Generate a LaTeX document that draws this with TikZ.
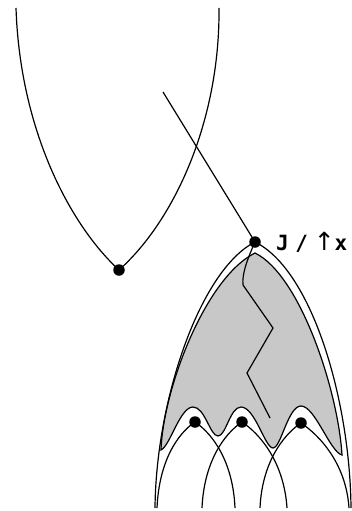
\documentclass[tikz,border=0pt]{standalone}
\usepackage{fontspec}
\usepackage{tikz}
\usetikzlibrary{positioning}
\newfontfamily\labelfont{DejaVu Sans Mono}
\newfontfamily\arrowfont{DejaVu Sans}
\definecolor{regiongray}{RGB}{200,200,200}
\tikzset{
  curve/.style={line width=1.2pt,black},
  vdot/.style={circle,fill=black,inner sep=0pt,minimum size=11.5pt},
  region/.style={fill=regiongray,draw=black,line width=1.2pt}
}

\begin{document}
\begin{tikzpicture}[x=1pt,y=-1pt]
        \useasboundingbox (0,0) rectangle (352,511);
        %% shaded region
        \draw[region]
          (255,253) .. controls (205,278) and (163,390) .. (161,450)
          .. controls (170,446) and (180,407) .. (193,407)
          .. controls (205,407) and (210,436) .. (218,436)
          .. controls (226,436) and (230,407) .. (241,407)
          .. controls (255,407) and (265,448) .. (273,448)
          .. controls (281,448) and (288,406) .. (301,406)
          .. controls (315,406) and (330,452) .. (342,455)
          .. controls (338,390) and (300,275) .. (255,253) -- cycle;
        %% vertices
        \node[vdot] (v) at (119,270) {};
        \node[vdot] (j) at (255,242) {};
        \node[vdot] (a) at (195,422) {};
        \node[vdot] (b) at (242,422) {};
        \node[vdot] (c) at (301,423) {};
        \node[font=\labelfont\bfseries\fontsize{21}{21}\selectfont,
          anchor=base west,inner sep=0pt] (lbl) at (276,250)
          {J\hspace{-6pt} /\hspace{-7pt} {\arrowfont\mdseries\fontsize{25}{25}\selectfont↑}x};
        %% upper curve
        \coordinate (vl) at (16,8);
        \coordinate (vr) at (219,8);
        \draw[curve] (vl) .. controls (20,130) and (70,225) .. (v.center)
          .. controls (175,220) and (220,120) .. (vr);
        %% line into J and the zigzag
        \coordinate (tail) at (163,92);
        \coordinate (zend) at (270,418);
        \draw[curve] (tail) -- (j.center)
          .. controls (246,262) and (242,275) .. (243,285)
          -- (273,328) -- (247,373) -- (zend);
        %% arch from J
        \coordinate (jl) at (155,508);
        \coordinate (jr) at (351,508);
        \draw[curve] (jl) .. controls (156,400) and (200,270) .. (j.center)
          .. controls (312,270) and (350,400) .. (jr);
        %% lower arches
        \coordinate (al) at (157,508);
        \coordinate (ar) at (235,508);
        \coordinate (bl) at (202,508);
        \coordinate (br) at (287,508);
        \coordinate (cl) at (260,508);
        \coordinate (cr) at (349,508);
        \draw[curve] (al) .. controls (159,462) and (177,434) .. (a.center)
          .. controls (213,434) and (233,462) .. (ar);
        \draw[curve] (bl) .. controls (204,462) and (224,434) .. (b.center)
          .. controls (260,434) and (284,462) .. (br);
        \draw[curve] (cl) .. controls (262,463) and (283,435) .. (c.center)
          .. controls (319,435) and (346,463) .. (cr);
      \end{tikzpicture}
\end{document}
